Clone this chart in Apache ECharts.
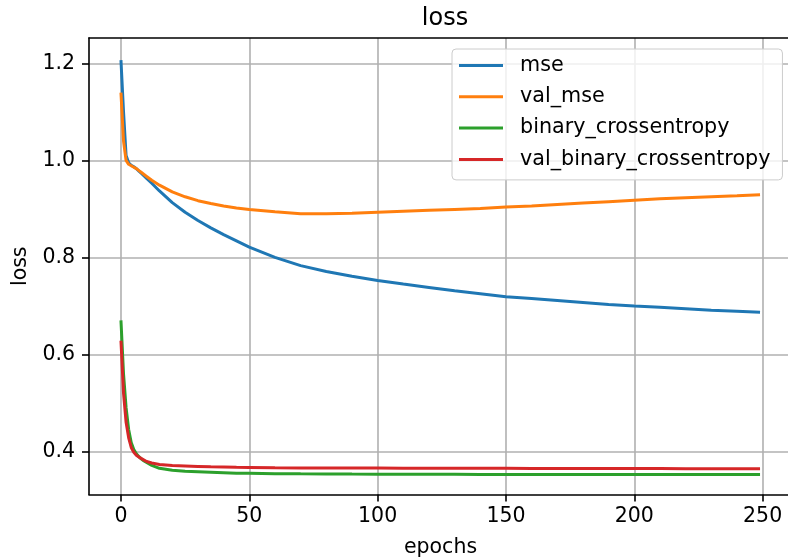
<!DOCTYPE html>
<html>
<head>
<meta charset="utf-8">
<script src="https://cdn.jsdelivr.net/npm/echarts@6/dist/echarts.min.js"></script>
<style>
  html, body { margin: 0; padding: 0; background: #fff; }
  #chart { width: 788px; height: 560px; }
</style>
</head>
<body>
<div id="chart"></div>
<script>
const epochs = [0,1,2,3,4,5,6,7,8,9,10,12,15,20,25,30,35,40,45,50,60,70,80,90,100,110,120,130,140,150,160,170,180,190,200,210,220,230,240,249];

const mse = [1.207,1.10,1.01,0.995,0.99,0.987,0.983,0.978,0.973,0.968,0.963,0.953,0.937,0.913,0.893,0.876,0.861,0.847,0.834,0.821,0.800,0.783,0.771,0.761,0.7525,0.745,0.738,0.731,0.725,0.719,0.715,0.711,0.707,0.703,0.6997,0.697,0.694,0.691,0.689,0.687];
const valMse = [1.14,1.04,1.0,0.992,0.989,0.986,0.983,0.979,0.975,0.971,0.967,0.959,0.949,0.935,0.925,0.917,0.911,0.906,0.902,0.899,0.894,0.890,0.890,0.891,0.893,0.895,0.897,0.899,0.901,0.904,0.906,0.909,0.912,0.915,0.918,0.921,0.923,0.925,0.927,0.929];
const bce = [0.67,0.56,0.49,0.445,0.418,0.404,0.395,0.389,0.384,0.380,0.377,0.371,0.365,0.361,0.359,0.358,0.357,0.356,0.355,0.3547,0.354,0.3537,0.3535,0.3532,0.353,0.3528,0.3527,0.3526,0.3525,0.3525,0.3524,0.3523,0.3522,0.3521,0.352,0.352,0.352,0.352,0.352,0.352];
const valBce = [0.628,0.52,0.46,0.428,0.408,0.398,0.392,0.388,0.385,0.382,0.379,0.376,0.373,0.371,0.370,0.369,0.368,0.3675,0.367,0.3667,0.366,0.3658,0.3656,0.3655,0.3655,0.3653,0.3652,0.365,0.365,0.365,0.3648,0.3647,0.3646,0.3645,0.3645,0.3644,0.3643,0.3642,0.3641,0.364];

const xTicks = [0, 50, 100, 150, 200, 250];
const yTicks = [0.4, 0.6, 0.8, 1.0, 1.2];

const names = ['mse', 'val_mse', 'binary_crossentropy', 'val_binary_crossentropy'];
const colors = ['#1f77b4', '#ff7f0e', '#2ca02c', '#d62728'];
const values = [mse, valMse, bce, valBce];

const font = 'DejaVu Sans';
const fs = 20.5;
const xMin = -12.45, xMax = 261.45;
const chart = echarts.init(document.getElementById('chart'), null, { renderer: 'canvas' });

const series = names.map(function (n, i) {
  return {
    name: n,
    type: 'line',
    symbol: 'none',
    smooth: false,
    animation: false,
    lineStyle: { color: colors[i], width: 3 },
    itemStyle: { color: colors[i] },
    data: epochs.map(function (e, k) { return [e, values[i][k]]; })
  };
});

const spine = { show: true, onZero: false, lineStyle: { color: '#000', width: 1.6 } };

chart.setOption({
  backgroundColor: '#fff',
  animation: false,
  title: {
    text: 'loss',
    left: 440,
    top: 2,
    textAlign: 'center',
    textStyle: { fontFamily: font, fontSize: 24, fontWeight: 'normal', color: '#000' }
  },
  legend: {
    orient: 'vertical',
    left: 452,
    top: 49,
    padding: [6, 12, 10, 7],
    itemGap: 10.3,
    itemWidth: 44,
    itemHeight: 3,
    icon: 'rect',
    backgroundColor: 'rgba(255,255,255,0.8)',
    borderColor: '#cccccc',
    borderWidth: 1,
    borderRadius: 4,
    textStyle: { fontFamily: font, fontSize: 20.7, color: '#000', padding: [0, 0, 0, 12] },
    data: names
  },
  grid: {
    left: 89, top: 38, right: -4, bottom: 65.5,
    outerBoundsMode: 'none',
    containLabel: false,
    show: false
  },
  xAxis: [{
    type: 'value',
    min: xMin,
    max: xMax,
    name: 'epochs',
    nameLocation: 'middle',
    nameGap: 43,
    nameTextStyle: { fontFamily: font, fontSize: fs, color: '#000' },
    axisLine: spine,
    axisTick: { show: true, length: 7, customValues: xTicks, lineStyle: { color: '#000', width: 1.6 } },
    axisLabel: { customValues: xTicks, margin: 12, fontFamily: font, fontSize: fs, color: '#000' },
    splitLine: { show: true, lineStyle: { color: '#b0b0b0', width: 1.6 } }
  }, {
    // top spine only
    type: 'value',
    position: 'top',
    min: xMin,
    max: xMax,
    axisLine: spine,
    axisTick: { show: false },
    axisLabel: { show: false },
    splitLine: { show: false }
  }],
  yAxis: {
    type: 'value',
    position: 'left',
    min: 0.311,
    max: 1.2525,
    name: 'loss',
    nameLocation: 'middle',
    nameGap: 53,
    nameTextStyle: { fontFamily: font, fontSize: fs, color: '#000' },
    axisLine: spine,
    axisTick: { show: true, length: 7, customValues: yTicks, lineStyle: { color: '#000', width: 1.6 } },
    axisLabel: {
      customValues: yTicks, margin: 14, fontFamily: font, fontSize: fs, color: '#000',
      formatter: function (v) { return v.toFixed(1); }
    },
    splitLine: { show: true, lineStyle: { color: '#b0b0b0', width: 1.6 } }
  },
  series: series
});
</script>
</body>
</html>
